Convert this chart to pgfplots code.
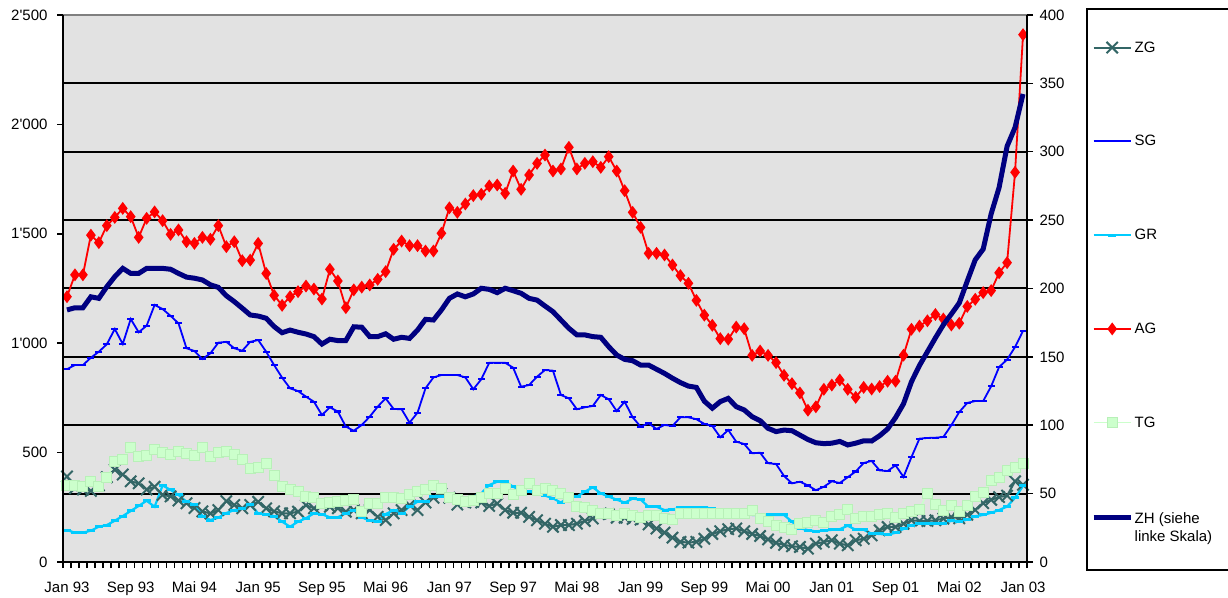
\documentclass[border=0pt]{standalone}
\usepackage{fontspec}
\setmainfont{Liberation Sans}[Ligatures=TeXOff]
\usepackage{pgfplots}
\usepackage{pgfplotstable}
\pgfplotsset{compat=1.18}
\definecolor{bgc}{RGB}{226,226,226}
\definecolor{zgc}{HTML}{336666}
\definecolor{sgc}{HTML}{0000FF}
\definecolor{grc}{HTML}{00CCFF}
\definecolor{agc}{HTML}{FF0000}
\definecolor{tgc}{HTML}{CCFFCC}
\definecolor{tgd}{HTML}{B8F0B8}
\definecolor{zhc}{HTML}{000080}

\pgfplotstableread{
i ZG SG GR AG TG ZH
0 62.5 141 23.4 194 56 1152
1 54 144 21.4 210 55.6 1162
2 53 144 21.4 210 55 1162
3 52 149.4 22.9 239 59 1212
4 56 153.8 25.8 233.5 55 1205
5 62 159.2 27 246 61.5 1258
6 67.5 170.4 30.2 252 73.5 1304
7 64 159.4 33.6 258.6 75 1342
8 59 177.7 37.3 252.5 84 1319
9 57.5 168 41 237.4 77.5 1319
10 53 172.8 44.8 251.3 78 1342
11 55 188 40.4 256 82 1342
12 49 185 56 249.6 80 1342
13 48 180 52.7 239.6 78.5 1338
14 45 174.5 49 242.8 81 1319
15 43 156.3 44.1 234.2 79.5 1302
16 39.5 154.3 41.7 233 78 1297
17 37 148.4 33.6 237.4 83.5 1289
18 35.5 152.6 30.7 236 77 1267
19 38 160.4 32.4 246 80 1255
20 44.5 161 35.8 230.6 80.5 1217
21 41.7 156.3 38 234.2 78.5 1190
22 39.3 154.5 39.3 220.3 75 1160
23 41.7 161 41.7 220.8 68.5 1129
24 44 162.3 35.6 233 69.3 1124
25 39.3 153.8 34.9 211 72 1114
26 37 144 33.6 195 63 1076
27 35.6 134.8 29.5 187.7 55 1048
28 35.6 127 25.8 194 52.8 1060
29 36.8 125 29.5 197.7 51.3 1050
30 41.5 120.9 32 201.8 47.7 1042
31 39.3 117.2 35.6 199.6 47.3 1030
32 41.5 107.5 34.9 192.3 42.8 996
33 40.4 113.1 32.7 214 43.2 1018
34 39.3 110 32.7 205.5 44 1012
35 36.8 99 35.6 186 45.3 1012
36 38 96 38 199 45.8 1075
37 35.6 100.2 32.7 201 36.8 1073
38 38 106.3 30.2 202.6 42.6 1030
39 33 113.6 29.5 206.7 42.8 1030
40 30.7 119.7 35 212.3 47 1043
41 35.6 111.9 38 228.7 47 1018
42 38 111.7 35.8 234.7 46.1 1027
43 41.6 101.9 40.4 231.3 49.7 1022
44 38 109.2 44.1 231.3 51.2 1060
45 43.5 127 44.1 227.4 53.2 1109
46 47 135 47.8 227.4 56.2 1106
47 50 136.7 47.8 240.4 53.7 1152
48 47 136.7 47.8 259 47 1205
49 42 136.7 46.6 255.7 45.8 1225
50 43.5 135 46.6 261.8 44 1212
51 44 126.3 47.8 267.9 45.2 1225
52 43.5 133.6 50.2 268.9 47.5 1251
53 41 145.7 56.3 275 50 1246
54 42.7 145.7 58.7 275.7 50 1231
55 38 145.7 58.7 269.6 53.5 1251
56 36 142.1 55.1 285.9 49.5 1240
57 36 128.2 52.1 272.5 52.5 1228
58 33 129.4 51.4 283 57.4 1205
59 30.5 135.5 50.2 291.5 52 1197
60 28 140.4 48.5 297.6 53.6 1170
61 25.7 139.9 46.6 285.9 52.4 1144
62 27 122.1 43.4 287.4 49.9 1106
63 27 119.7 47.8 303.2 47.5 1068
64 28 111.7 47.8 287.4 40.7 1038
65 30 113.1 51.4 291.5 39.7 1038
66 31.8 114.1 54.6 292.7 37.8 1030
67 35.5 122.1 50.2 288.6 35.8 1027
68 35 119 47.8 296.4 35.3 984
69 32.4 110.4 45.6 285.9 34.2 946
70 32.4 117.2 43.4 271.5 35.3 926
71 31.5 105.8 46.3 255.7 34.2 920
72 31 99 45.6 244.7 32.9 900
73 27.5 101.4 40.4 225.7 34 900
74 24.5 97.3 40.4 225.7 34.2 881
75 21.5 100.2 38 224.5 31.7 862
76 17.8 99.5 38.5 217.2 30.9 840
77 14.7 105.8 39.5 209.4 35.3 820
78 14.2 105.8 40 203.8 35.3 804
79 14.7 104.4 40 191.3 35.3 798
80 17 101 40 180.5 35.8 735
81 20.5 99.5 39 173.1 35.3 703
82 22.5 91.2 38 163.3 35.3 733
83 24 96.5 37 162.9 35.3 748
84 24.5 88 37.5 171.8 35.8 710
85 22.5 86.3 36 170.6 35.8 695
86 20.5 79.5 34.4 151.1 37.8 664
87 19 79.9 34.4 154.3 31.5 646
88 16.5 72.2 34.4 151.1 29.4 611
89 14 71.7 34.4 145.8 26.9 596
90 12.5 62.9 34.4 136.5 25 603
91 11.5 57.5 29.5 130.4 24 600
92 11 58.7 24.6 123.6 28.5 580
93 9.7 56 23.3 111 28.6 560
94 13.4 52.5 22.4 113.5 30 545
95 14.6 55 23 126.3 29 541
96 15.9 59 23.5 129.4 33 543
97 13.4 57.8 24 133.1 35 551
98 12.2 62 26.5 126.3 38.5 535
99 15.9 66.2 23.5 120.4 32 543
100 17 72.4 23.5 127.7 33 554
101 19.5 73.9 20.7 126.5 33 553
102 23.2 67 20.5 128.3 34.5 577
103 25.6 66.5 19.9 132.2 35.5 608
104 25.6 70.7 21.4 132.2 32.5 660
105 28 62.2 24.2 151.2 35.3 723
106 30.5 76.8 27 170.2 36.8 824
107 30 90.2 28 172.5 38.5 898
108 30 90.7 28.5 176.4 50.3 961
109 30.5 90.9 28 181 42 1024
110 31.7 91.4 28.5 177.7 38 1084
111 32.9 100 30 173.3 41.5 1133
112 32 109.7 29.5 174.6 36.6 1184
113 34.5 116.3 31 186.9 41 1284
114 38 117.7 33.5 192.1 48 1381
115 43 117.7 34.4 197 51 1430
116 45.5 128.5 36 198.5 59.5 1591
117 47.5 142.6 38 211.5 62 1712
118 48.5 148 40.5 218.9 66.7 1900
119 59 157.2 47 285 69.3 1986
120 56.5 169 55.6 385.6 71.8 2139
}\data

\pgfplotsset{
  common/.style={scale only axis, width=964pt, height=547pt,
    at={(63pt,35pt)}, anchor=south west,
    xmin=-0.5, xmax=120.5, ymin=0,
    tick align=outside, major tick length=6pt,
    tick style={line width=1.5pt, black},
    axis line style={line width=2pt, black},
    tick label style={font=\fontsize{15pt}{18pt}\selectfont},
    clip=false},
  zgstyle/.style={color=zgc, line width=2pt, mark=x, mark size=8pt, mark options={line width=2pt}},
  sgstyle/.style={color=sgc, line width=1.8pt, mark=-, mark size=3.5pt, mark options={line width=2.2pt}},
  grstyle/.style={color=grc, line width=2.2pt, mark=-, mark size=4pt, mark options={line width=3pt}},
  agstyle/.style={color=agc, line width=1.8pt, mark=diamond*, mark size=5pt},
  tgstyle/.style={color=tgc, line width=1.6pt, mark=square*, mark size=5pt, mark options={fill=tgc, draw=tgd, line width=1pt}},
  zhstyle/.style={color=zhc, line width=5pt, no marks},
}

\begin{document}
\begin{tikzpicture}
\useasboundingbox (0,0) rectangle (1228pt,597pt);
\begin{axis}[common,
  ymax=400,
  axis background/.style={fill=bgc},
  ytick={0,50,...,400},
  yticklabels={0,50,100,150,200,250,300,350,400},
  ytick pos=right, yticklabel pos=right,
  yticklabel style={xshift=3pt},
  ymajorgrids, grid style={line width=2pt, black},
  xtick={-0.5,0.5,...,121}, xticklabel=\empty, xtick pos=left,
  xticklabel style={yshift=-16pt},
  extra x ticks={0,8,...,120},
  extra x tick labels={Jan 93,Sep 93,Mai 94,Jan 95,Sep 95,Mai 96,Jan 97,Sep 97,Mai 98,Jan 99,Sep 99,Mai 00,Jan 01,Sep 01,Mai 02,Jan 03},
  extra x tick style={major tick length=0pt, grid=none},
]
\draw[color=gray, line width=2pt] (rel axis cs:0,1) -- (rel axis cs:1,1);
\addplot[zgstyle] table[x=i,y=ZG] {\data};
\addplot[sgstyle] table[x=i,y=SG] {\data};
\addplot[grstyle] table[x=i,y=GR] {\data};
\addplot[agstyle] table[x=i,y=AG] {\data};
\addplot[tgstyle] table[x=i,y=TG] {\data};
\end{axis}
\begin{axis}[common,
  ymax=2500, hide x axis,
  ytick={0,500,...,2500},
  yticklabels={0,500,1'000,1'500,2'000,2'500},
  ytick pos=left, yticklabel pos=left,
  yticklabel style={xshift=-6pt},
  legend cell align=left,
  legend image code/.code={\draw[mark repeat=2,mark phase=2,#1] plot coordinates {(0pt,0pt) (18.5pt,0pt) (37pt,0pt)};},
  legend style={at={(axis description cs:1.0664,0.9545)}, anchor=north west,
    draw=none, fill=none, inner sep=0pt, row sep=78.8pt,
    font=\fontsize{15pt}{18pt}\selectfont, nodes={inner sep=1.5pt}},
]
\addlegendimage{zgstyle}\addlegendentry{ZG}
\addlegendimage{sgstyle}\addlegendentry{SG}
\addlegendimage{grstyle}\addlegendentry{GR}
\addlegendimage{agstyle}\addlegendentry{AG}
\addlegendimage{tgstyle}\addlegendentry{TG}
\addplot[zhstyle] table[x=i,y=ZH] {\data};
\addlegendentry{\begin{tabular}[t]{@{}l@{}}ZH (siehe\\linke Skala)\end{tabular}}
\end{axis}
\draw[line width=1.5pt] (1087pt,27pt) rectangle (1260pt,588pt);
\end{tikzpicture}
\end{document}
